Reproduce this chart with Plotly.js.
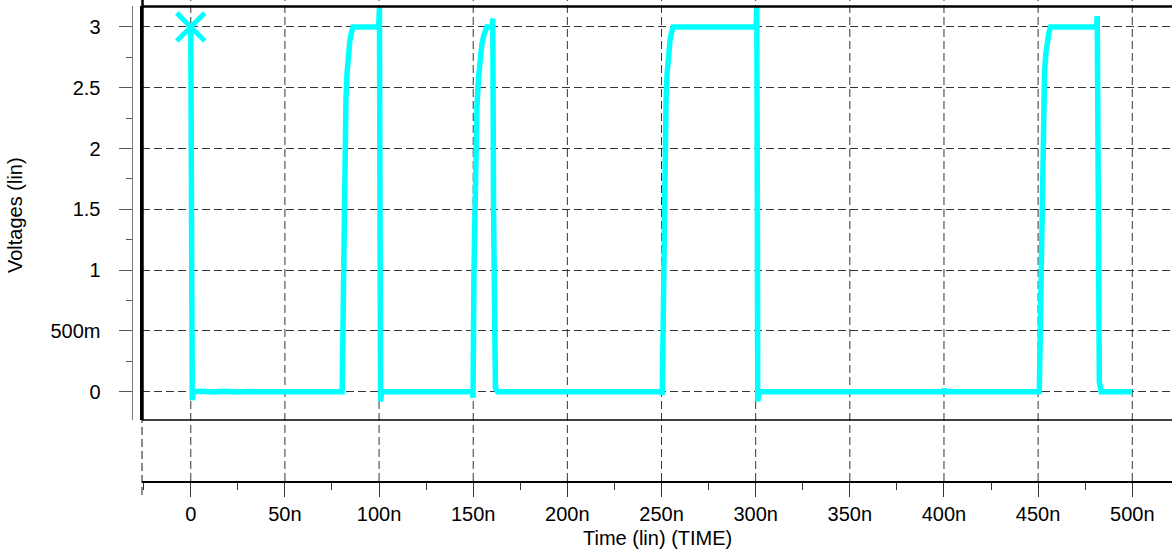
<!DOCTYPE html>
<html>
<head>
<meta charset="utf-8">
<script src="https://cdn.plot.ly/plotly-3.0.1.min.js"></script>
<style>
  html, body { margin: 0; padding: 0; background: #fff; }
  #chart { width: 1172px; height: 550px; }
</style>
</head>
<body>
<div id="chart"></div>
<script>
// ---- data (time in ns, voltage in V) ----
const timeNs = [
  0, 0.5, 0.8, 1.3, 6, 12, 18, 24, 30, 35,
  80.4, 80.9, 81.7, 82.4, 83.0, 83.7, 84.5, 85.3, 86.2, 99.8, 100.2, 100.5, 100.8, 101.4,
  149.6, 149.9, 150.4, 151.2, 152.0, 152.8, 153.6, 154.6, 155.8, 157.2, 160.0, 160.4, 160.8, 161.2, 161.8, 163.0,
  250.2, 250.4, 250.9, 251.7, 252.4, 253.0, 253.7, 254.5, 255.3, 256.2, 300.2, 300.6, 300.9, 301.1, 301.7,
  399.6, 400.2, 400.8,
  450.4, 450.6, 451.3, 452.2, 452.8, 453.4, 454.1, 454.9, 455.7, 456.6, 481.0, 481.4, 481.7, 482.0, 482.5, 483.5,
  500
];
const volts = [
  3.0, 1.5, -0.07, 0.0, 0.004, -0.003, 0.004, -0.003, 0.002, 0.0,
  0.0, 0.8, 2.0, 2.4, 2.62, 2.78, 2.89, 2.95, 3.0, 3.0, 3.16, 1.5, -0.08, 0.0,
  0.0, -0.05, 1.0, 2.0, 2.35, 2.58, 2.74, 2.86, 2.94, 3.0, 3.0, 3.07, 1.5, 0.3, 0.03, 0.0,
  0.0, -0.03, 0.8, 2.0, 2.4, 2.62, 2.78, 2.89, 2.95, 3.0, 3.0, 3.16, 1.5, -0.08, 0.0,
  0.0, 0.02, 0.0,
  0.0, -0.02, 0.8, 2.0, 2.4, 2.62, 2.78, 2.89, 2.95, 3.0, 3.0, 3.09, 2.0, 0.5, 0.08, 0.0,
  0.0
];
const markerTimeNs = [0];
const markerVolts = [3.0];

const xTickVals = [0, 50, 100, 150, 200, 250, 300, 350, 400, 450, 500];
const xTickText = ['0', '50n', '100n', '150n', '200n', '250n', '300n', '350n', '400n', '450n', '500n'];
const yTickVals = [0, 0.5, 1, 1.5, 2, 2.5, 3];
const yTickText = ['0', '500m', '1', '1.5', '2', '2.5', '3'];

const xTitle = 'Time (lin) (TIME)';
const yTitle = 'Voltages (lin)';

// ---- layout geometry ----
const W = 1172, H = 550;
const xRange = [-25.9, 521.1];
const yRange = [-0.233, 3.168];
const xDomain = [142 / W, 1];
const yDomain = [0.12682, 0.98649];
const FONT = 'Liberation Sans, Arial, Helvetica, sans-serif';
const CYAN = '#00FFFF';

const shapes = [];
xTickVals.forEach(v => {
  shapes.push({
    type: 'line', xref: 'x', yref: 'paper', x0: v, x1: v, y0: 0, y1: 1,
    line: { color: '#333', width: 1, dash: '8px,4px' }, layer: 'below'
  });
});
// dashed line under left border down to the time axis
shapes.push({
  type: 'line', xref: 'paper', yref: 'paper', x0: xDomain[0], x1: xDomain[0], y0: -0.029, y1: yDomain[0],
  line: { color: '#666', width: 1.5, dash: '8px,4px' }, layer: 'below'
});
// plot borders
shapes.push({
  type: 'line', xref: 'paper', yref: 'paper', x0: xDomain[0], x1: 1, y0: yDomain[1], y1: yDomain[1],
  line: { color: '#000', width: 2.5 }, layer: 'above'
});
shapes.push({
  type: 'line', xref: 'paper', yref: 'paper', x0: xDomain[0], x1: 1, y0: yDomain[0], y1: yDomain[0],
  line: { color: '#000', width: 1.5 }, layer: 'above'
});
shapes.push({
  type: 'line', xref: 'paper', yref: 'paper', x0: 142.5 / W, x1: 142.5 / W, y0: yDomain[0], y1: 1,
  line: { color: '#000', width: 2.5 }, layer: 'above'
});

const traces = [
  {
    type: 'scatter', mode: 'lines', x: timeNs, y: volts,
    line: { color: CYAN, width: 5.5 }, hoverinfo: 'skip', showlegend: false
  },
  {
    type: 'scatter', mode: 'markers', x: markerTimeNs, y: markerVolts,
    marker: { symbol: 'x-thin-open', size: 28, color: CYAN, line: { color: CYAN, width: 5 } },
    hoverinfo: 'skip', showlegend: false, cliponaxis: false
  },
  {
    // carrier for the plot-frame axis on the left edge of the plotting area
    type: 'scatter', mode: 'lines', x: markerTimeNs, y: markerVolts, yaxis: 'y2',
    line: { width: 0, color: 'rgba(0,0,0,0)' }, hoverinfo: 'skip', showlegend: false
  }
];

const layout = {
  width: W, height: H,
  margin: { l: 0, r: 0, t: 0, b: 69, pad: 0 },
  paper_bgcolor: '#fff', plot_bgcolor: 'rgba(0,0,0,0)',
  font: { family: FONT, size: 20, color: '#000' },
  showlegend: false,
  xaxis: {
    domain: xDomain, range: xRange, anchor: 'free', position: 0,
    showgrid: false, zeroline: false,
    showline: true, linecolor: '#000', linewidth: 1.5,
    ticks: 'outside', ticklen: 14, tickwidth: 1, tickcolor: '#333',
    tickmode: 'array', tickvals: xTickVals, ticktext: xTickText,
    tickfont: { family: FONT, size: 20, color: '#000' },
    minor: { ticks: 'outside', ticklen: 7, tickwidth: 1, tickcolor: '#333', dtick: 25, tick0: 0, showgrid: false },
    fixedrange: true
  },
  yaxis: {
    domain: yDomain, range: yRange, anchor: 'free', position: 131.5 / W,
    showgrid: true, gridcolor: '#333', gridwidth: 1, griddash: '8px,4px',
    zeroline: false,
    showline: true, linecolor: '#777', linewidth: 1,
    ticks: 'outside', ticklen: 13, tickwidth: 1, tickcolor: '#555',
    tickmode: 'array', tickvals: yTickVals, ticktext: yTickText,
    ticklabelstandoff: 14,
    tickfont: { family: FONT, size: 20, color: '#000' },
    minor: { ticks: 'outside', ticklen: 6, tickwidth: 1, tickcolor: '#555', dtick: 0.25, tick0: 0, showgrid: false },
    fixedrange: true
  },
  yaxis2: {
    overlaying: 'y', anchor: 'x', side: 'left', range: yRange,
    showgrid: false, zeroline: false, showticklabels: false, ticks: '',
    showline: true, linecolor: '#000', linewidth: 2.5,
    fixedrange: true
  },
  shapes: shapes,
  annotations: [
    {
      text: xTitle, xref: 'paper', yref: 'paper', x: 657.5 / W, y: (481 - 538) / 481,
      xanchor: 'center', yanchor: 'middle', showarrow: false,
      font: { family: FONT, size: 20, color: '#000' }
    },
    {
      text: yTitle, xref: 'paper', yref: 'paper', x: 15 / W, y: (481 - 215) / 481,
      xanchor: 'center', yanchor: 'middle', showarrow: false, textangle: -90,
      font: { family: FONT, size: 20, color: '#000' }
    }
  ]
};

Plotly.newPlot('chart', traces, layout, { displayModeBar: false, staticPlot: true });
</script>
</body>
</html>
